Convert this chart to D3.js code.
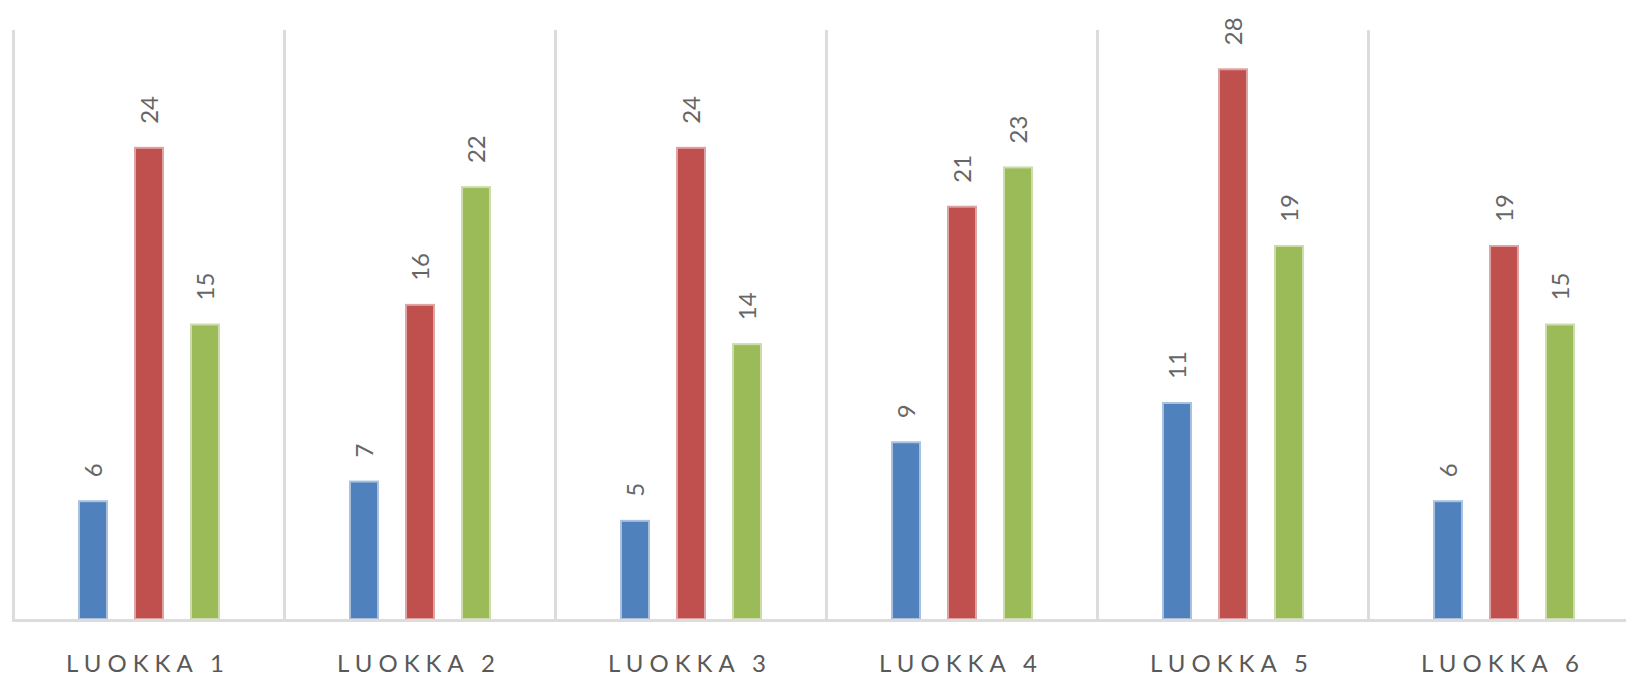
<!DOCTYPE html>
<html>
<head>
<meta charset="utf-8">
<script src="https://cdn.jsdelivr.net/npm/d3@7"></script>
<style>
  body { margin: 0; background: #fff; }
  svg { display: block; }
  text { font-family: Lato, "Open Sans", sans-serif; fill: #595959; }
</style>
</head>
<body>
<svg id="chart" width="1626" height="678"></svg>
<script>
const categories = ["LUOKKA 1", "LUOKKA 2", "LUOKKA 3", "LUOKKA 4", "LUOKKA 5", "LUOKKA 6"];
const seriesNames = ["s1", "s2", "s3"];
const blueValues = [6, 7, 5, 9, 11, 6];
const redValues = [24, 16, 24, 21, 28, 19];
const greenValues = [15, 22, 14, 23, 19, 15];
const colors = ["#4f81bd", "#c0504d", "#9bbb59"];
const borders = ["#a9c1df", "#dda4a2", "#cddcab"];

const svg = d3.select("#chart");
const bandW = 271;
const left = 13.5;

const x = d3
  .scaleBand()
  .domain(categories)
  .range([left, left + bandW * categories.length])
  .padding(0);

const xInner = d3
  .scaleBand()
  .domain(seriesNames)
  .range([bandW / 2 - 84, bandW / 2 + 84])
  .paddingInner(26 / 56)
  .paddingOuter(13 / 56);

const y = d3.scaleLinear().domain([0, 30]).range([619, 30]);

// vertical separators
svg
  .append("g")
  .selectAll("line")
  .data(d3.range(categories.length + 1))
  .enter()
  .append("line")
  .attr("x1", (i) => left + i * bandW)
  .attr("x2", (i) => left + i * bandW)
  .attr("y1", y(30))
  .attr("y2", y(0))
  .attr("stroke", "#dcdcdc")
  .attr("stroke-width", 3);

// rows of data
const rows = categories.map((c, i) => ({
  cat: c,
  vals: [blueValues[i], redValues[i], greenValues[i]],
}));

const groups = svg
  .selectAll(".cat")
  .data(rows)
  .enter()
  .append("g")
  .attr("class", "cat")
  .attr("transform", (d) => `translate(${x(d.cat)},0)`);

groups
  .selectAll("rect")
  .data((d) => d.vals.map((v, k) => ({ v, k })))
  .enter()
  .append("rect")
  .attr("x", (d) => xInner(seriesNames[d.k]) + 1)
  .attr("width", xInner.bandwidth() - 2)
  .attr("y", (d) => y(d.v))
  .attr("height", (d) => y(0) - y(d.v))
  .attr("fill", (d) => colors[d.k])
  .attr("stroke", (d) => borders[d.k])
  .attr("stroke-width", 2);

// value labels, rotated
groups
  .selectAll(".val")
  .data((d) => d.vals.map((v, k) => ({ v, k })))
  .enter()
  .append("text")
  .attr("class", "val")
  .attr(
    "transform",
    (d) =>
      `translate(${xInner(seriesNames[d.k]) + xInner.bandwidth() / 2},${y(d.v) - 24}) rotate(-90)`
  )
  .attr("dy", "0.36em")
  .attr("text-anchor", "start")
  .style("font-size", "24px")
  .style("fill", "#666")
  .text((d) => d.v);

// baseline
svg
  .append("line")
  .attr("x1", left - 1.5)
  .attr("x2", 1626)
  .attr("y1", y(0) + 1.5)
  .attr("y2", y(0) + 1.5)
  .attr("stroke", "#dcdcdc")
  .attr("stroke-width", 3);

// category labels
svg
  .append("g")
  .selectAll("text")
  .data(categories)
  .enter()
  .append("text")
  .attr("x", (d) => x(d) + bandW / 2 - 1)
  .attr("y", 672)
  .attr("text-anchor", "middle")
  .style("font-size", "24px")
  .style("letter-spacing", "6px")
  .text((d) => d);
</script>
</body>
</html>
